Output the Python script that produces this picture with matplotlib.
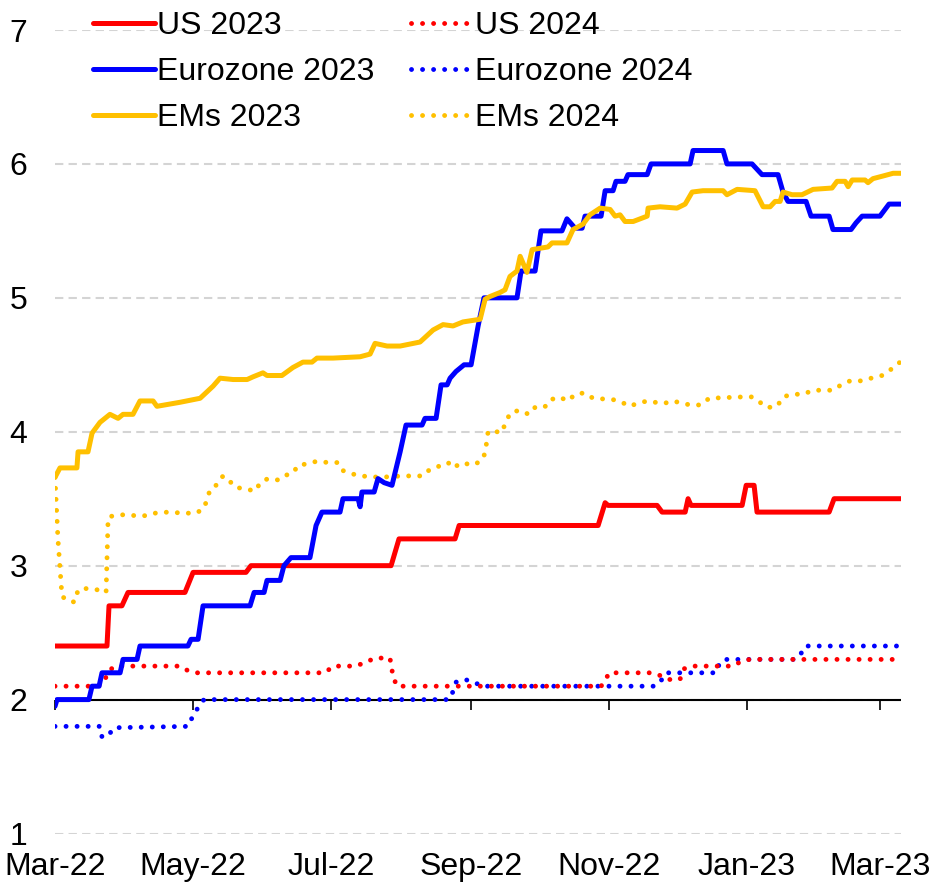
import numpy as np
import pandas as pd
import matplotlib
matplotlib.use('Agg')
import matplotlib.pyplot as plt
import matplotlib.dates as mdates

plt.rcParams['font.family'] = ['Liberation Sans', 'DejaVu Sans']

# ---------------- data (days since 2022-03-01, consensus forecast %) ----------------
START = pd.Timestamp('2022-03-01')
END_DAY = 374.3

us23_days = [0, 23.0, 23.9, 29.6, 32.3, 57.5, 61.1, 84.5, 86.7, 148.7, 152.2, 177.0, 178.8,
             240.3, 243.4, 244.7, 266.4, 268.6, 278.8, 280.1, 281.4, 304.0, 305.8, 309.3,
             310.6, 342.5, 344.7, 374.3]
us23_vals = [2.40, 2.40, 2.70, 2.70, 2.80, 2.80, 2.95, 2.95, 3.00, 3.00, 3.20, 3.20, 3.30,
             3.30, 3.47, 3.45, 3.45, 3.40, 3.40, 3.50, 3.45, 3.45, 3.60, 3.60,
             3.40, 3.40, 3.50, 3.50]

ez23_days = [0, 0.9, 15.0, 16.4, 19.5, 20.8, 28.8, 30.1, 36.3, 37.6, 58.8, 60.2, 63.3, 65.5,
             86.3, 88.1, 92.5, 93.8, 99.6, 101.3, 104.4, 112.8, 115.5, 118.1, 126.1, 127.4,
             134.1, 135.0, 135.8, 141.2, 142.9, 145.6, 149.1, 152.7, 155.3, 162.4, 163.7,
             168.6, 170.8, 173.5, 174.8, 177.4, 181.0, 184.1, 187.2, 189.8, 204.4, 206.2,
             212.4, 215.0, 224.3, 226.5, 230.1, 233.2, 234.5, 241.6, 243.4, 246.9, 248.2,
             252.2, 253.5, 262.0, 263.7, 281.0, 282.3, 295.6, 297.3, 308.4, 310.6, 312.8,
             319.9, 322.1, 324.3, 332.3, 334.5, 342.5, 344.2, 352.2, 354.4, 357.1, 365.0,
             369.0, 374.3]
ez23_vals = [1.95, 2.00, 2.00, 2.10, 2.10, 2.20, 2.20, 2.30, 2.30, 2.40, 2.40, 2.45, 2.45, 2.70,
             2.70, 2.80, 2.80, 2.89, 2.89, 3.00, 3.06, 3.06, 3.30, 3.40, 3.40, 3.50,
             3.50, 3.44, 3.55, 3.55, 3.65, 3.62, 3.60, 3.85, 4.05, 4.05, 4.10,
             4.10, 4.35, 4.35, 4.40, 4.45, 4.50, 4.50, 4.79, 5.00, 5.00, 5.20,
             5.20, 5.50, 5.50, 5.59, 5.52, 5.52, 5.61, 5.61, 5.80, 5.80, 5.87,
             5.87, 5.92, 5.92, 6.00, 6.00, 6.10, 6.10, 6.00, 6.00, 5.96, 5.92,
             5.92, 5.79, 5.72, 5.72, 5.61, 5.61, 5.51, 5.51, 5.56, 5.61, 5.61,
             5.70, 5.70]

em23_days = [0, 2.2, 9.7, 10.2, 14.6, 16.4, 19.9, 24.3, 27.9, 30.1, 34.5, 37.6, 43.4, 45.1,
             55.3, 64.2, 69.9, 73.0, 78.8, 85.0, 87.6, 92.0, 93.8, 100.4, 105.3, 109.7,
             113.7, 115.9, 123.0, 135.0, 139.4, 141.6, 146.9, 152.7, 161.5, 167.3, 171.7,
             176.1, 180.5, 188.1, 190.3, 192.5, 196.9, 199.1, 201.3, 204.4, 205.8, 208.8,
             211.1, 218.1, 219.9, 226.5, 229.2, 233.6, 236.7, 241.2, 245.6, 247.8, 250.0,
             252.2, 255.8, 262.0, 262.4, 267.7, 275.2, 278.8, 281.9, 286.7, 295.6, 297.3,
             301.8, 309.7, 313.3, 316.4, 318.6, 320.8, 322.1, 326.1, 330.5, 335.4, 343.8,
             346.0, 349.6, 350.9, 352.7, 358.4, 359.7, 361.9, 366.4, 370.8, 374.3]
em23_vals = [3.66, 3.73, 3.73, 3.85, 3.85, 3.99, 4.07, 4.13, 4.10, 4.13, 4.13, 4.23, 4.23, 4.19,
             4.22, 4.25, 4.34, 4.40, 4.39, 4.39, 4.41, 4.44, 4.42, 4.42, 4.48, 4.52,
             4.52, 4.55, 4.55, 4.56, 4.58, 4.66, 4.64, 4.64, 4.67, 4.76, 4.80,
             4.79, 4.82, 4.84, 4.99, 5.01, 5.04, 5.06, 5.16, 5.20, 5.31, 5.19,
             5.36, 5.38, 5.41, 5.41, 5.51, 5.55, 5.62, 5.67, 5.66, 5.61, 5.62,
             5.57, 5.57, 5.61, 5.67, 5.68, 5.67, 5.70, 5.79, 5.80, 5.80, 5.77,
             5.81, 5.80, 5.68, 5.68, 5.72, 5.72, 5.79, 5.77, 5.77, 5.81, 5.82,
             5.87, 5.87, 5.83, 5.88, 5.88, 5.86, 5.89, 5.91, 5.93, 5.93]

us24_days = [0, 19.0, 21.7, 23.5, 26.5, 55.3, 58.4, 61.9, 119.5, 123.0, 132.7, 136.3, 141.6,
             148.2, 149.6, 151.3, 241.6, 243.4, 245.1, 264.2, 267.7, 271.2, 276.5, 278.3,
             281.9, 300.0, 304.0, 307.5, 374.3]
us24_vals = [2.10, 2.10, 2.13, 2.21, 2.25, 2.25, 2.22, 2.20, 2.20, 2.25, 2.25, 2.27, 2.31,
             2.31, 2.17, 2.10, 2.10, 2.14, 2.20, 2.20, 2.18, 2.15, 2.15, 2.23,
             2.25, 2.25, 2.29, 2.30, 2.30]

ez24_days = [0, 19.9, 20.8, 23.5, 26.1, 58.8, 61.1, 63.3, 65.9, 174.3, 176.1, 177.4, 181.4,
             185.4, 188.9, 265.5, 267.7, 270.4, 292.5, 294.2, 297.3, 327.4, 329.6, 331.9,
             374.3]
ez24_vals = [1.80, 1.80, 1.72, 1.73, 1.79, 1.80, 1.88, 1.94, 2.00, 2.00, 2.06, 2.13, 2.15,
             2.13, 2.10, 2.10, 2.13, 2.20, 2.20, 2.28, 2.30, 2.30, 2.33, 2.40,
             2.40]

em24_days = [0, 1.3, 3.1, 6.6, 8.8, 10.2, 14.2, 18.6, 22.6, 23.5, 25.2, 30.1, 38.9, 43.4,
             47.8, 61.9, 65.5, 67.3, 68.6, 72.1, 74.3, 77.0, 79.2, 84.1, 88.9, 90.7, 94.2,
             98.7, 100.9, 105.3, 107.5, 111.5, 115.9, 120.8, 125.2, 127.4, 130.5, 135.0,
             143.8, 153.5, 162.8, 165.9, 169.5, 173.9, 176.1, 180.1, 184.5, 188.5, 190.3,
             191.6, 193.8, 197.3, 199.6, 201.3, 205.3, 209.7, 212.8, 217.3, 219.5, 223.0,
             227.0, 230.1, 234.1, 238.1, 246.9, 250.9, 254.0, 257.5, 262.0, 269.0, 273.5,
             277.9, 281.4, 285.8, 289.4, 304.0, 308.4, 311.9, 315.0, 319.5, 322.1, 326.1,
             331.0, 335.4, 344.2, 347.8, 351.8, 356.6, 361.1, 365.9, 369.5, 372.6, 374.3]
em24_vals = [3.66, 3.20, 2.77, 2.73, 2.73, 2.82, 2.83, 2.82, 2.80, 3.36, 3.37, 3.38, 3.37, 3.39,
             3.40, 3.39, 3.42, 3.49, 3.57, 3.61, 3.67, 3.64, 3.59, 3.57, 3.56, 3.62, 3.65,
             3.64, 3.67, 3.69, 3.75, 3.76, 3.78, 3.77, 3.77, 3.71, 3.69, 3.67,
             3.66, 3.67, 3.67, 3.72, 3.74, 3.77, 3.73, 3.77, 3.75, 3.78, 3.84,
             4.00, 4.01, 3.99, 4.07, 4.14, 4.16, 4.13, 4.19, 4.19, 4.24, 4.26,
             4.23, 4.28, 4.29, 4.25, 4.24, 4.22, 4.19, 4.21, 4.23, 4.21, 4.23,
             4.21, 4.20, 4.20, 4.25, 4.26, 4.26, 4.22, 4.18, 4.19, 4.26, 4.28,
             4.28, 4.31, 4.31, 4.35, 4.38, 4.38, 4.40, 4.42, 4.46, 4.51, 4.52]

tick_dates = ['2022-03-01', '2022-05-01', '2022-07-01', '2022-09-01',
              '2022-11-01', '2023-01-01', '2023-03-01']
y_ticks = [1, 2, 3, 4, 5, 6, 7]

RED, BLUE, GOLD = '#FF0000', '#0000FF', '#FFC000'


def to_x(days):
    return mdates.date2num(START + pd.to_timedelta(np.asarray(days, float), unit='D'))


for d, v in [(us23_days, us23_vals), (ez23_days, ez23_vals), (em23_days, em23_vals),
             (us24_days, us24_vals), (ez24_days, ez24_vals), (em24_days, em24_vals)]:
    assert len(d) == len(v), (len(d), len(v))

# ---------------- figure ----------------
W, H = 932, 886
fig = plt.figure(figsize=(W / 100, H / 100), dpi=100)
ax = fig.add_axes([55 / W, 1 - 833.5 / H, 846 / W, 803.5 / H])

FS = 23
solid_kw = dict(lw=3.6, solid_capstyle='round', solid_joinstyle='round', zorder=3)
dot_kw = dict(lw=3.5, ls=(0, (0.01, 2.26)), dash_capstyle='round', zorder=2.5)

l_em24, = ax.plot(to_x(em24_days), em24_vals, color=GOLD, label='EMs 2024', **dot_kw)
l_ez24, = ax.plot(to_x(ez24_days), ez24_vals, color=BLUE, label='Eurozone 2024', **dot_kw)
l_us24, = ax.plot(to_x(us24_days), us24_vals, color=RED, label='US 2024', **dot_kw)
l_us23, = ax.plot(to_x(us23_days), us23_vals, color=RED, label='US 2023', **solid_kw)
l_ez23, = ax.plot(to_x(ez23_days), ez23_vals, color=BLUE, label='Eurozone 2023', **solid_kw)
l_em23, = ax.plot(to_x(em23_days), em23_vals, color=GOLD, label='EMs 2023', **solid_kw)

ax.set_xlim(to_x([0])[0], to_x([END_DAY])[0])
ax.set_ylim(1, 7)
ax.set_yticks(y_ticks)
ax.set_xticks(mdates.date2num(pd.to_datetime(tick_dates)))
ax.xaxis.set_major_formatter(mdates.DateFormatter('%b-%y'))
ax.yaxis.grid(True, color='#d4d4d4', lw=1.5, ls=(0, (4, 2.5)))
ax.xaxis.grid(False)
ax.set_axisbelow(True)
for s in ax.spines.values():
    s.set_visible(False)
ax.tick_params(axis='y', length=0, pad=20, labelsize=FS)
ax.tick_params(axis='x', length=0, pad=13, labelsize=FS)

# horizontal axis line at y=2 with downward ticks
ax.axhline(2, color='black', lw=1.5, zorder=1.6)
sec = ax.secondary_xaxis(1 / 6)
sec.set_zorder(1.6)
sec.set_xticks(mdates.date2num(pd.to_datetime(tick_dates)))
sec.tick_params(axis='x', direction='out', length=7.5, width=1.2, color='black',
                labelbottom=False, labeltop=False)
for s in sec.spines.values():
    s.set_visible(False)

# legends (two columns)
leg_kw = dict(loc='upper left', bbox_transform=fig.transFigure, frameon=False, borderpad=0,
              borderaxespad=0, handlelength=1.94, handletextpad=0.06, labelspacing=0.5,
              fontsize=FS)
leg1 = ax.legend(handles=[l_us23, l_ez23, l_em23], bbox_to_anchor=(93 / W, 1 - 11 / H), **leg_kw)
ax.add_artist(leg1)
leg2 = ax.legend(handles=[l_us24, l_ez24, l_em24], bbox_to_anchor=(411 / W, 1 - 11 / H), **leg_kw)

fig.savefig('out.png', dpi=100)
